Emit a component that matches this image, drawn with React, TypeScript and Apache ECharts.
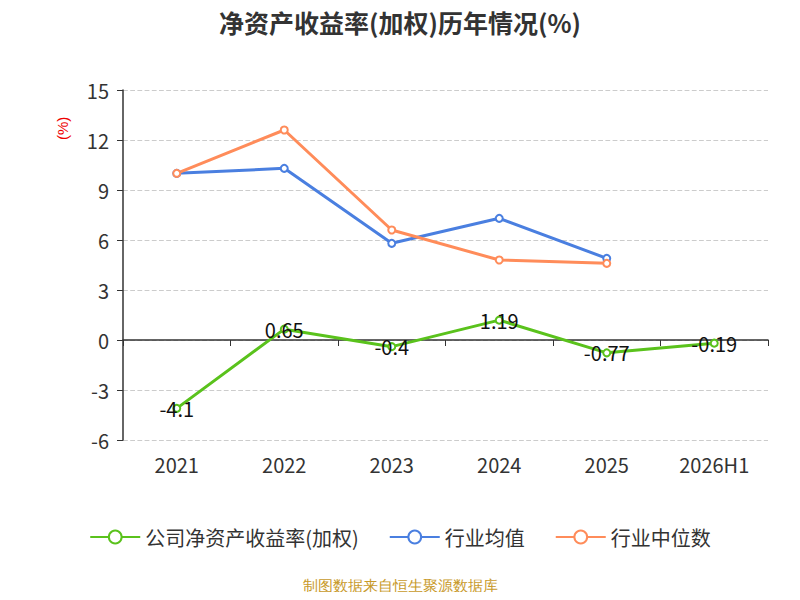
import React, { useEffect, useRef } from "react";
import * as echarts from "echarts";

const years = ["2021", "2022", "2023", "2024", "2025", "2026H1"];
const companyRoe = [-4.1, 0.65, -0.4, 1.19, -0.77, -0.19];
const industryAvg = [10.0, 10.3, 5.8, 7.3, 4.9];
const industryMedian = [10.0, 12.6, 6.6, 4.8, 4.6];

const App = () => {
  const chartRef = useRef<HTMLDivElement>(null);

  useEffect(() => {
    if (!chartRef.current) return;
    const chart = echarts.init(chartRef.current, undefined, { renderer: "svg" });

    const option: echarts.EChartsOption = {
      animation: false,
      backgroundColor: "#fff",
      textStyle: { fontFamily: "Noto Sans CJK SC" },
      title: {
        text: "净资产收益率(加权)历年情况(%)",
        left: "center",
        top: 4,
        textStyle: { color: "#333", fontSize: 25, fontWeight: "bold" },
      },
      legend: {
        bottom: 48,
        itemWidth: 50,
        itemHeight: 16,
        itemGap: 30,
        textStyle: { color: "#333", fontSize: 20 },
        data: ["公司净资产收益率(加权)", "行业均值", "行业中位数"],
      },
      graphic: [
        {
          type: "text",
          left: "center",
          top: 578,
          style: { text: "制图数据来自恒生聚源数据库", fill: "#c89a2a", fontSize: 15 },
        },
        {
          type: "text",
          x: 55,
          y: 140,
          rotation: Math.PI / 2,
          style: { text: "(%)", fill: "#e00", fontSize: 15 },
        },
      ],
      grid: { left: 123, right: 32, top: 90, bottom: 160 },
      xAxis: {
        type: "category",
        data: years,
        axisLine: { onZero: true, lineStyle: { color: "#333", width: 1.5 } },
        axisTick: { show: true, length: 6, lineStyle: { color: "#333" } },
        axisLabel: { color: "#333", fontSize: 20, margin: 14 },
      },
      yAxis: {
        type: "value",
        min: -6,
        max: 15,
        interval: 3,
        axisLine: { show: true, lineStyle: { color: "#333", width: 1.5 } },
        axisTick: { show: true, length: 6, lineStyle: { color: "#333" } },
        axisLabel: { color: "#333", fontSize: 20, margin: 14 },
        splitLine: { lineStyle: { color: "#ccc", type: "dashed", width: 1.2 } },
      },
      series: [
        {
          name: "公司净资产收益率(加权)",
          type: "line",
          data: companyRoe,
          color: "#5ac21c",
          symbol: "emptyCircle",
          symbolSize: 7,
          lineStyle: { width: 3 },
          label: { show: true, position: "inside", color: "#111", fontSize: 20 },
        },
        {
          name: "行业均值",
          type: "line",
          data: industryAvg,
          color: "#4a7fe0",
          symbol: "emptyCircle",
          symbolSize: 7,
          lineStyle: { width: 3 },
        },
        {
          name: "行业中位数",
          type: "line",
          data: industryMedian,
          color: "#ff8c5a",
          symbol: "emptyCircle",
          symbolSize: 7,
          lineStyle: { width: 3 },
        },
      ],
    };

    chart.setOption(option);
    return () => chart.dispose();
  }, []);

  return <div ref={chartRef} style={{ width: 800, height: 600, margin: -8 }} />;
};

export default App;
